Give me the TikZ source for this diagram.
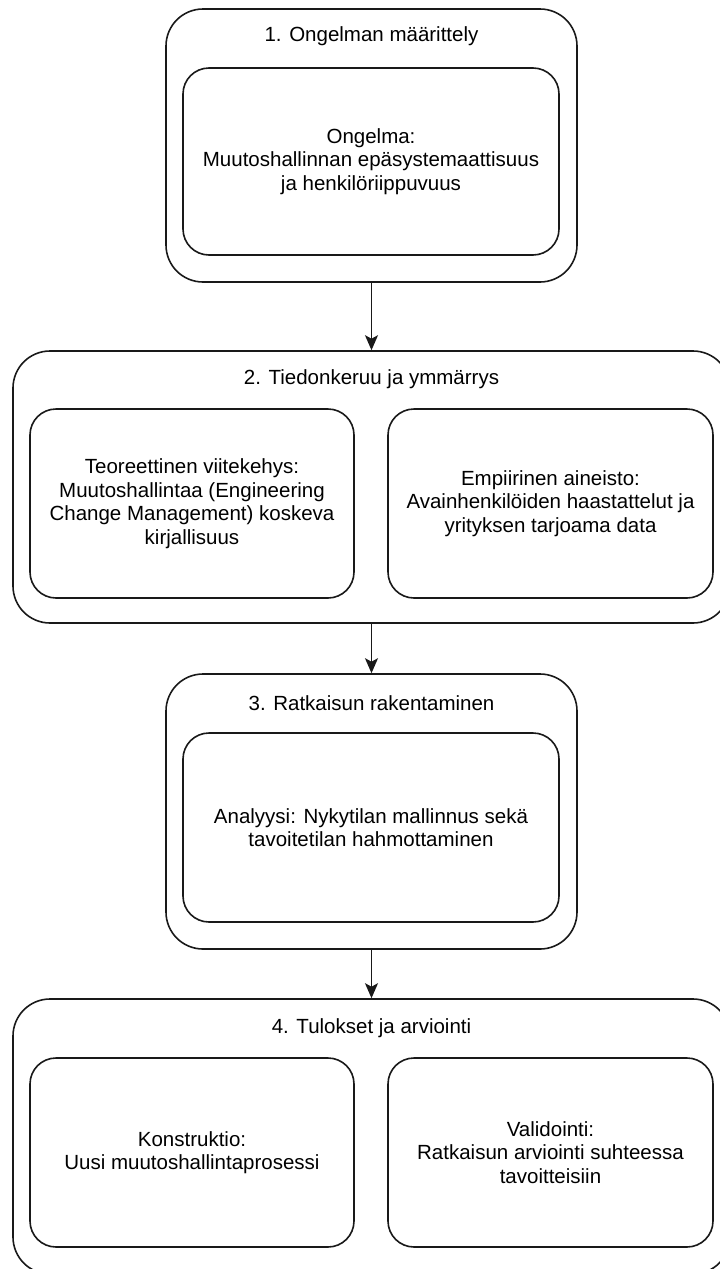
\documentclass[tikz,border=0pt]{standalone}
\usepackage{fontspec}
\setmainfont{Liberation Sans}
\usetikzlibrary{arrows.meta}
\begin{document}
\begin{tikzpicture}[x=1pt,y=-1pt,
  outerbox/.style={draw=black!90, line width=1.6pt, rounded corners=37pt, inner sep=0pt},
  innerbox/.style={draw=black!90, line width=1.6pt, rounded corners=26pt, inner sep=0pt, align=center,
    font=\fontsize{20.5}{23.5}\selectfont},
  titletext/.style={inner sep=0pt, font=\fontsize{20.5}{23.5}\selectfont},
  flow/.style={draw=black!90, line width=1.6pt, -{Stealth[length=15pt,width=13pt,inset=3.5pt]}}]
\useasboundingbox (0,0) rectangle (720,1269);
\clip (0,0) rectangle (720,1269);
% Box 1
\node[outerbox, minimum width=411pt, minimum height=273pt] (s1) at (371.5,145.5) {};
\node[titletext] (t1) at (371.5,36) {1. Ongelman määrittely};
\node[innerbox, minimum width=376pt, minimum height=187pt] (b1) at (371,161.5)
  {Ongelma:\\Muutoshallinnan epäsystemaattisuus\\ja henkilöriippuvuus};
% Box 2
\node[outerbox, minimum width=717pt, minimum height=272pt] (s2) at (371.5,487) {};
\node[titletext] (t2) at (371.5,379) {2. Tiedonkeruu ja ymmärrys};
\node[innerbox, minimum width=324pt, minimum height=189pt] (b2l) at (192,503.5)
  {Teoreettinen viitekehys:\\Muutoshallintaa (Engineering\\Change Management) koskeva\\kirjallisuus};
\node[innerbox, minimum width=325pt, minimum height=189pt] (b2r) at (550.5,503.5)
  {Empiirinen aineisto:\\Avainhenkilöiden haastattelut ja\\yrityksen tarjoama data};
% Box 3
\node[outerbox, minimum width=411pt, minimum height=275pt] (s3) at (371.5,811.5) {};
\node[titletext] (t3) at (371.5,703) {3. Ratkaisun rakentaminen};
\node[innerbox, minimum width=376pt, minimum height=189pt] (b3) at (371,827.5)
  {Analyysi: Nykytilan mallinnus sekä\\tavoitetilan hahmottaminen};
% Box 4
\node[outerbox, minimum width=717pt, minimum height=275pt] (s4) at (371.5,1136.5) {};
\node[titletext] (t4) at (371.5,1028) {4. Tulokset ja arviointi};
\node[innerbox, minimum width=324pt, minimum height=189pt] (b4l) at (192,1152.5)
  {Konstruktio:\\Uusi muutoshallintaprosessi};
\node[innerbox, minimum width=325pt, minimum height=189pt] (b4r) at (550.5,1152.5)
  {Validointi:\\Ratkaisun arviointi suhteessa\\tavoitteisiin};
% Connectors
\draw[flow] (s1.south) -- (s2.north);
\draw[flow] (s2.south) -- (s3.north);
\draw[flow] (s3.south) -- (s4.north);
\end{tikzpicture}
\end{document}
